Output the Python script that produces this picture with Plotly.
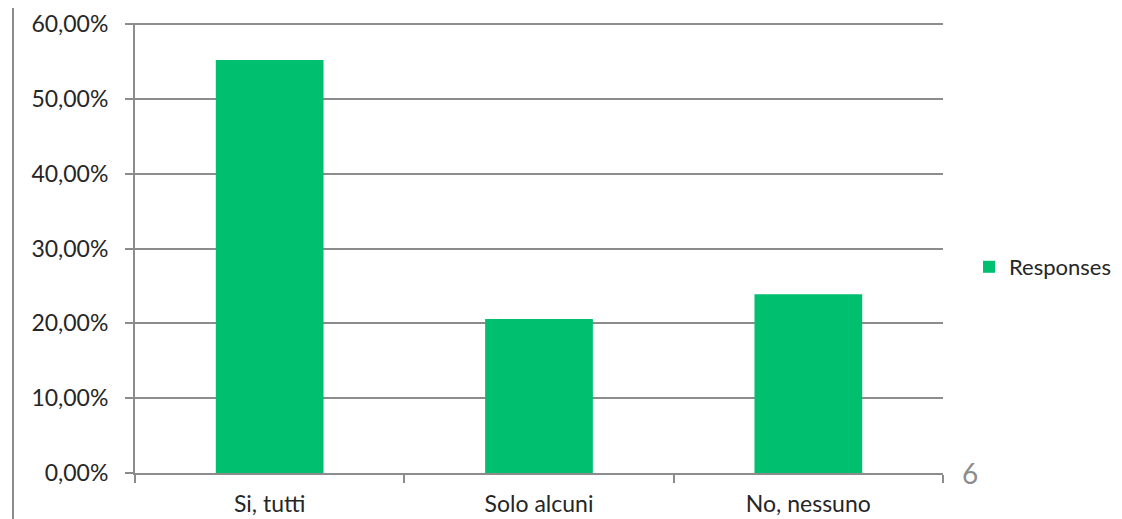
import plotly.graph_objects as go

categories = ["Si, tutti", "Solo alcuni", "No, nessuno"]
values = [55.2, 20.6, 23.9]
series_name = "Responses"
ytick_vals = [0, 10, 20, 30, 40, 50, 60]
ytick_text = ["0,00%", "10,00%", "20,00%", "30,00%", "40,00%", "50,00%", "60,00%"]

# page body adds an 8px offset; compensate
OFF = 8
W, H = 1122 - OFF, 519 - OFF
L, T = 135 - OFF, 23 - OFF
R = W - (943 - OFF)
B = H - (473 - OFF)
pw = W - L - R
ph = H - T - B

fig = go.Figure()
fig.add_trace(go.Bar(x=categories, y=values, name=series_name,
                     marker=dict(color="#00BF6F", line=dict(width=0)),
                     showlegend=True))

grid = "#8c8c8c"
txt = "#262626"
fnt = "Lato, Open Sans, sans-serif"
fs = 23
fig.update_layout(
    width=W, height=H,
    margin=dict(l=L, r=R, t=T, b=B, pad=0, autoexpand=False),
    plot_bgcolor="white", paper_bgcolor="white",
    bargap=0.6,
    font=dict(family=fnt, size=fs, color=txt),
    showlegend=True,
    legend=dict(x=(969 - L - OFF) / pw, y=(473 - 267) / ph, xanchor="left", yanchor="middle",
                font=dict(family=fnt, size=22, color=txt), bgcolor="rgba(0,0,0,0)",
                itemwidth=30),
    xaxis=dict(showgrid=False, showline=True, linecolor=grid, linewidth=2,
               ticks="outside", tickson="boundaries", ticklen=8, tickcolor=grid,
               tickwidth=2, tickfont=dict(family=fnt, size=fs, color=txt),
               ticklabelstandoff=9, automargin=False, fixedrange=True),
    yaxis=dict(range=[0, 60.15], tickvals=ytick_vals, ticktext=ytick_text,
               showgrid=True, gridcolor=grid, gridwidth=2,
               showline=True, linecolor=grid, linewidth=2,
               ticks="outside", ticklen=8, tickcolor=grid, tickwidth=2,
               zeroline=False, tickfont=dict(family=fnt, size=fs, color=txt),
               ticklabelstandoff=12, automargin=False),
    shapes=[dict(type="line", xref="paper", yref="paper",
                 x0=(13 - OFF - L) / pw, x1=(13 - OFF - L) / pw, y0=-1, y1=2,
                 line=dict(color="#8c8c8c", width=2))],
    annotations=[dict(text="6", xref="paper", yref="paper",
                      x=(970 - OFF - L) / pw, y=0.0,
                      xanchor="center", yanchor="middle", showarrow=False,
                      font=dict(family=fnt, size=28, color="#8c8c8c"))],
)

fig.write_html("out.html")
